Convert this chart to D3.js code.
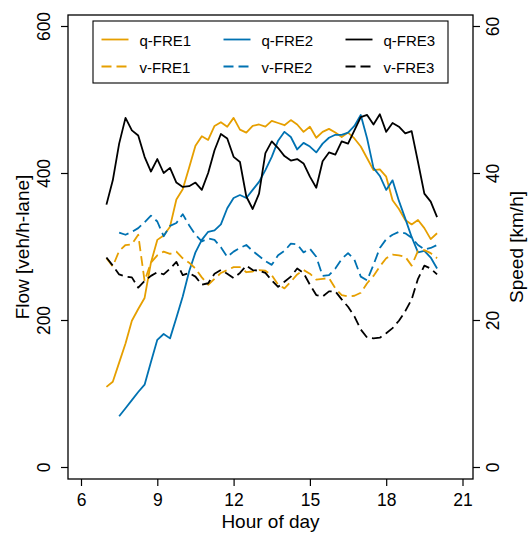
<!DOCTYPE html>
<html>
<head>
<meta charset="utf-8">
<script src="https://cdn.jsdelivr.net/npm/d3@7"></script>
<style>
  html, body { margin: 0; padding: 0; background: #fff; }
  svg { display: block; font-family: "Liberation Sans", Arial, Helvetica, sans-serif; }
</style>
</head>
<body>
<svg id="chart" width="528" height="533"></svg>
<script>
// Time of day (hours), 15-minute intervals from 07:00 to 20:00
const hours = [7.00, 7.25, 7.50, 7.75, 8.00, 8.25, 8.50, 8.75, 9.00, 9.25,
  9.50, 9.75, 10.00, 10.25, 10.50, 10.75, 11.00, 11.25, 11.50, 11.75,
  12.00, 12.25, 12.50, 12.75, 13.00, 13.25, 13.50, 13.75, 14.00, 14.25,
  14.50, 14.75, 15.00, 15.25, 15.50, 15.75, 16.00, 16.25, 16.50, 16.75,
  17.00, 17.25, 17.50, 17.75, 18.00, 18.25, 18.50, 18.75, 19.00, 19.25,
  19.50, 19.75, 20.00];

// Flow [veh/h-lane]
const qFRE1 = [109, 116, 142, 168, 199, 215, 230, 278, 309, 315,
  327, 364, 378, 407, 437, 450, 445, 464, 469, 463,
  475, 459, 455, 464, 466, 463, 471, 468, 465, 472,
  466, 456, 463, 448, 456, 460, 455, 449, 455, 447,
  436, 420, 404, 405, 395, 363, 351, 336, 330, 336,
  325, 310, 318];
const qFRE2 = [null, null, 69, 80, 91, 102, 112, 143, 173, 181,
  175, 203, 232, 266, 292, 309, 320, 322, 330, 352,
  366, 370, 366, 377, 388, 404, 422, 444, 456, 449,
  432, 441, 436, 428, 440, 448, 452, 452, 455, 464,
  479, 447, 407, 396, 377, 390, 362, 338, 313, 292,
  294, 285, 270];
const qFRE3 = [357, 390, 440, 475, 458, 451, 422, 402, 419, 400,
  407, 387, 381, 382, 387, 377, 400, 431, 453, 447,
  422, 415, 368, 351, 372, 427, 443, 434, 423, 417,
  419, 413, 395, 380, 416, 428, 425, 443, 440, 458,
  476, 479, 466, 480, 456, 468, 463, 454, 457, 415,
  372, 361, 340];

// Speed [km/h]
const vFRE1 = [28.4, 27.3, 29.4, 30.2, 30.3, 31.6, 25.3, 27.8, 28.8, 29.3,
  29.0, 29.3, 28.4, 27.8, 27.0, 25.8, 24.8, 25.6, 26.4, 26.8,
  27.2, 27.2, 26.5, 26.6, 26.8, 26.7, 26.1, 24.8, 24.3, 25.2,
  26.2, 26.8, 26.3, 25.5, 25.6, 25.7, 24.3, 23.4, 23.2, 23.3,
  23.7, 25.0, 26.0, 27.3, 28.4, 28.9, 28.8, 28.6, 27.4, 29.4,
  29.5, 29.1, 28.4];
const vFRE2 = [null, null, 31.9, 31.6, 32.0, 32.5, 33.3, 34.2, 33.4, 31.4,
  32.8, 33.2, 34.4, 32.9, 31.6, 30.7, 31.1, 30.9, 29.9, 28.6,
  29.3, 29.8, 30.2, 29.4, 28.7, 28.0, 27.5, 28.8, 29.4, 30.4,
  30.3, 29.2, 29.7, 28.6, 26.0, 26.1, 27.0, 28.3, 29.1, 28.2,
  25.9, 25.4, 27.5, 29.8, 31.0, 31.6, 32.0, 31.8, 31.2, 30.2,
  29.6, 29.8, 30.2];
const vFRE3 = [28.5, 27.4, 26.2, 25.9, 25.8, 24.4, 25.3, 26.0, 26.5, 26.2,
  27.0, 27.9, 26.1, 26.4, 25.9, 24.8, 25.0, 26.3, 26.8, 26.3,
  25.7, 26.4, 27.4, 26.8, 26.7, 26.4, 25.4, 24.5, 25.2, 25.9,
  27.0, 26.4, 24.8, 23.4, 23.2, 23.9, 23.9, 22.8, 21.8, 20.5,
  18.7, 17.6, 17.5, 17.6, 18.2, 18.9, 19.9, 21.2, 22.8, 25.6,
  27.4, 27.0, 26.2];

// Axis ticks
const xTicks = [6, 9, 12, 15, 18, 21];
const flowTicks = [0, 200, 400, 600];
const speedTicks = [0, 20, 40, 60];

const ORANGE = "#E69F00", BLUE = "#0072B2", BLACK = "#000000";

const series = [
  { name: "q-FRE1", values: qFRE1, axis: "flow", color: ORANGE, dashed: false },
  { name: "q-FRE2", values: qFRE2, axis: "flow", color: BLUE, dashed: false },
  { name: "q-FRE3", values: qFRE3, axis: "flow", color: BLACK, dashed: false },
  { name: "v-FRE1", values: vFRE1, axis: "speed", color: ORANGE, dashed: true },
  { name: "v-FRE2", values: vFRE2, axis: "speed", color: BLUE, dashed: true },
  { name: "v-FRE3", values: vFRE3, axis: "speed", color: BLACK, dashed: true }
];

const svg = d3.select("#chart");
const box = { left: 68, right: 473, top: 15, bottom: 479 };
const DASH = "10,5";
const LW = 1.8;

const x = d3.scaleLinear().domain([6, 21]).range([81, 462.5]);
const yFlow = d3.scaleLinear().domain([0, 600]).range([467, 26]);
const ySpeed = d3.scaleLinear().domain([0, 60]).range([467, 26]);

// Data lines
const plot = svg.append("g");
series.forEach(s => {
  const yS = s.axis === "flow" ? yFlow : ySpeed;
  const pts = hours.map((h, i) => [h, s.values[i]]).filter(p => p[1] != null);
  const line = d3.line().x(p => x(p[0])).y(p => yS(p[1]));
  plot.append("path")
    .datum(pts)
    .attr("d", line)
    .attr("fill", "none")
    .attr("stroke", s.color)
    .attr("stroke-width", LW)
    .attr("stroke-linejoin", "round")
    .attr("stroke-dasharray", s.dashed ? DASH : null);
});

// Plot frame
svg.append("rect")
  .attr("x", box.left).attr("y", box.top)
  .attr("width", box.right - box.left).attr("height", box.bottom - box.top)
  .attr("fill", "none").attr("stroke", "#000").attr("stroke-width", 1.3);

function styleAxis(g) {
  g.select(".domain").remove();
  g.selectAll(".tick line").attr("stroke", "#000").attr("stroke-width", 1.2);
  g.selectAll(".tick text").attr("fill", "#000").attr("font-size", 17.5)
    .attr("font-family", "Liberation Sans, Arial, sans-serif");
}

// Bottom axis
const gx = svg.append("g").attr("transform", `translate(0,${box.bottom})`)
  .call(d3.axisBottom(x).tickValues(xTicks).tickSize(7).tickFormat(d3.format("d")));
styleAxis(gx);
gx.selectAll(".tick text").attr("y", 26.5).attr("dy", 0);

// Left axis (flow)
const gl = svg.append("g").attr("transform", `translate(${box.left},0)`)
  .call(d3.axisLeft(yFlow).tickValues(flowTicks).tickSize(7));
styleAxis(gl);
gl.selectAll(".tick text")
  .attr("x", 0).attr("dy", 0).attr("text-anchor", "middle")
  .attr("transform", "translate(-18,0) rotate(-90)");

// Right axis (speed)
const gr = svg.append("g").attr("transform", `translate(${box.right},0)`)
  .call(d3.axisRight(ySpeed).tickValues(speedTicks).tickSize(7));
styleAxis(gr);
gr.selectAll(".tick text")
  .attr("x", 0).attr("dy", 0).attr("text-anchor", "middle")
  .attr("transform", "translate(26,0) rotate(-90)");

// Axis titles
const midY = (box.top + box.bottom) / 2;
svg.append("text").attr("x", (box.left + box.right) / 2).attr("y", 528)
  .attr("text-anchor", "middle").attr("font-size", 19).text("Hour of day");
svg.append("text").attr("transform", `translate(29,${midY}) rotate(-90)`)
  .attr("text-anchor", "middle").attr("font-size", 19).text("Flow [veh/h-lane]");
svg.append("text").attr("transform", `translate(523,${midY}) rotate(-90)`)
  .attr("text-anchor", "middle").attr("font-size", 19).text("Speed [km/h]");

// Legend: three columns, solid (flow) on top row, dashed (speed) below
const legend = svg.append("g");
legend.append("rect").attr("x", 93).attr("y", 21).attr("width", 355).attr("height", 62)
  .attr("fill", "#fff").attr("stroke", "#000").attr("stroke-width", 1.1);
const colX = [101.5, 223.5, 345.5];
const rowY = [39.5, 66.5];
series.forEach((s, k) => {
  const col = k % 3, row = Math.floor(k / 3);
  const lx = colX[col], ly = rowY[row];
  legend.append("line")
    .attr("x1", lx).attr("x2", lx + 27).attr("y1", ly).attr("y2", ly)
    .attr("stroke", s.color).attr("stroke-width", LW)
    .attr("stroke-dasharray", s.dashed ? DASH : null);
  legend.append("text").attr("x", lx + 38).attr("y", ly + 6)
    .attr("font-size", 15).text(s.name);
});
</script>
</body>
</html>
